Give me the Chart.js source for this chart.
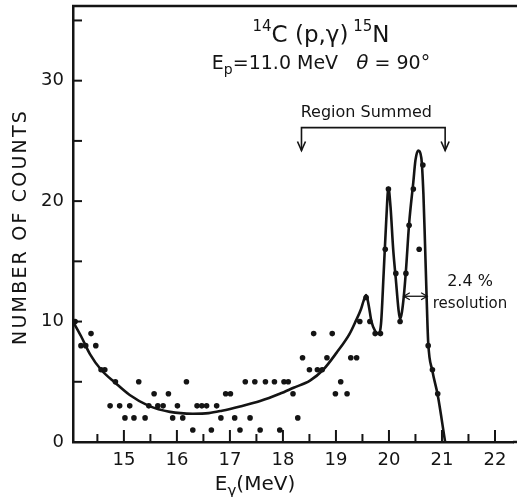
<!DOCTYPE html>
<html>
<head>
<meta charset="utf-8">
<script src="https://cdn.jsdelivr.net/npm/chart.js@4.4.1/dist/chart.umd.min.js"></script>
<style>
  body { margin: 0; background: #fff; }
  canvas { display: block; }
</style>
</head>
<body>
<canvas id="spectrum" width="517" height="497"></canvas>
<script>
// Measured counts per channel (gamma energy in MeV)
const channelEnergy = [
  14.08, 14.19, 14.28, 14.38, 14.47, 14.57, 14.64, 14.74, 14.84, 14.92,
  15.02, 15.11, 15.19, 15.28, 15.40, 15.47, 15.57, 15.64, 15.74, 15.84,
  15.92, 16.01, 16.11, 16.18, 16.30, 16.38, 16.47, 16.56, 16.65, 16.75,
  16.83, 16.92, 17.01, 17.09, 17.19, 17.29, 17.38, 17.47, 17.57, 17.67,
  17.84, 17.94, 18.02, 18.10, 18.19, 18.28, 18.37, 18.50, 18.58, 18.65,
  18.74, 18.83, 18.93, 18.99, 19.09, 19.21, 19.28, 19.39, 19.45, 19.57,
  19.64, 19.74, 19.84, 19.93, 19.99, 20.13, 20.21, 20.32, 20.38, 20.46,
  20.57, 20.64, 20.74, 20.82, 20.92
];
const channelCounts = [
  10, 8, 8, 9, 8, 6, 6, 3, 5, 3,
  2, 3, 2, 5, 2, 3, 4, 3, 3, 4,
  2, 3, 2, 5, 1, 3, 3, 3, 1, 3,
  2, 4, 4, 2, 1, 5, 2, 5, 1, 5,
  5, 1, 5, 5, 4, 2, 7, 6, 9, 6,
  6, 7, 9, 4, 5, 4, 7, 7, 10, 12,
  10, 9, 9, 16, 21, 14, 10, 14, 18, 21,
  16, 23, 8, 6, 4
];

// Hand-drawn fit through the spectrum
const fitEnergy = [
  14.04, 14.19, 14.36, 14.57, 14.84, 15.11, 15.47, 15.87, 16.30, 16.60,
  16.85, 17.19, 17.57, 17.94, 18.20, 18.51, 18.76, 19.01, 19.26, 19.38,
  19.47, 19.52, 19.57, 19.62, 19.67, 19.74, 19.80, 19.85, 19.90, 19.95,
  19.99, 20.03, 20.08, 20.13, 20.18, 20.21, 20.245, 20.28, 20.32,
  20.38, 20.46, 20.50, 20.55, 20.61, 20.65, 20.68, 20.71, 20.74,
  20.82, 20.92, 21.06
];
const fitCounts = [
  10, 8.8, 7.3, 6.0, 4.9, 3.9, 3.0, 2.5, 2.35, 2.4,
  2.6, 2.95, 3.4, 4.0, 4.5, 5.1, 6.0, 7.4, 9.0, 10.1,
  11.0, 11.7, 12.2, 11.3, 10.0, 9.2, 9.0, 9.8, 14.0, 18.5,
  21.1, 19.5, 16.0, 13.5, 11.0, 10.2, 10.8, 12.1, 14.2,
  18.1, 21.6, 23.4, 24.2, 23.6, 20.6, 16.5, 12.1, 8.3,
  5.9, 3.9, 0
];

// Axis ticks
const xTickValues = [14.5, 15, 15.5, 16, 16.5, 17, 17.5, 18, 18.5, 19, 19.5, 20, 20.5, 21, 21.5, 22];
const yTickValues = [0, 5, 10, 15, 20, 25, 30, 35];
const yTickLabels = ['0', '', '10', '', '20', '', '30', ''];

// Annotations (data units)
const regionSummed = [18.35, 21.06];
const resolutionSpan = [20.28, 20.72];
const halfMax = 12.1;

const INK = '#141414';
const FONT = '"DejaVu Sans", "Liberation Sans", sans-serif';

function line(ctx, x1, y1, x2, y2) {
  ctx.beginPath();
  ctx.moveTo(x1, y1);
  ctx.lineTo(x2, y2);
  ctx.stroke();
}

// draw a run of text pieces (size, vertical shift) centred on cx
function drawRun(ctx, parts, cx, baseline) {
  let total = 0;
  parts.forEach(p => {
    ctx.font = (p.style || '') + ' ' + p.size + 'px ' + FONT;
    p.w = ctx.measureText(p.t).width;
    total += p.w;
  });
  let x = cx - total / 2;
  ctx.textAlign = 'left';
  ctx.textBaseline = 'alphabetic';
  parts.forEach(p => {
    ctx.font = (p.style || '') + ' ' + p.size + 'px ' + FONT;
    ctx.fillText(p.t, x, baseline + (p.dy || 0));
    x += p.w;
  });
}

const inkPlugin = {
  id: 'ink',
  afterDraw(chart) {
    const { ctx, chartArea: a, scales: { x, y } } = chart;
    ctx.save();
    ctx.strokeStyle = INK;
    ctx.fillStyle = INK;
    ctx.lineCap = 'butt';

    // frame top
    ctx.lineWidth = 2.5;
    line(ctx, a.left - 1, a.top, chart.width, a.top);

    // inward tick marks
    ctx.lineWidth = 2;
    xTickValues.forEach(v => {
      const px = x.getPixelForValue(v);
      const len = Number.isInteger(v) ? 12 : 8;
      line(ctx, px, a.bottom, px, a.bottom - len);
    });
    yTickValues.forEach(v => {
      const py = y.getPixelForValue(v);
      line(ctx, a.left, py, a.left + 9, py);
    });

    // reaction title
    drawRun(ctx, [
      { t: '14', size: 15, dy: -11 },
      { t: 'C (p,\u03b3)', size: 23 },
      { t: ' 15', size: 15, dy: -11 },
      { t: 'N', size: 23 }
    ], 321, 42);
    drawRun(ctx, [
      { t: 'E', size: 19 },
      { t: 'p', size: 14, dy: 5 },
      { t: '=11.0 MeV', size: 19 },
      { t: '   ', size: 19 },
      { t: '\u03b8', size: 20, style: 'italic' },
      { t: ' = 90\u00b0', size: 19 }
    ], 321, 69);

    // region summed bracket
    ctx.lineWidth = 1.6;
    const rx1 = x.getPixelForValue(regionSummed[0]);
    const rx2 = x.getPixelForValue(regionSummed[1]);
    const ry = y.getPixelForValue(26.1);
    const tip = y.getPixelForValue(24.2);
    ctx.beginPath();
    ctx.moveTo(rx1, tip);
    ctx.lineTo(rx1, ry);
    ctx.lineTo(rx2, ry);
    ctx.lineTo(rx2, tip);
    ctx.stroke();
    [rx1, rx2].forEach(px => {
      ctx.beginPath();
      ctx.moveTo(px - 4, tip - 9);
      ctx.lineTo(px, tip);
      ctx.lineTo(px + 4, tip - 9);
      ctx.stroke();
    });
    ctx.font = '16px ' + FONT;
    ctx.textAlign = 'center';
    ctx.textBaseline = 'middle';
    ctx.fillText('Region Summed', (rx1 + rx2) / 2 - 7, ry - 15);

    // resolution arrow at half maximum
    ctx.lineWidth = 1.3;
    const ax1 = x.getPixelForValue(resolutionSpan[0]);
    const ax2 = x.getPixelForValue(resolutionSpan[1]);
    const ay = y.getPixelForValue(halfMax);
    line(ctx, ax1, ay, ax2, ay);
    ctx.beginPath();
    ctx.moveTo(ax1 + 6, ay - 3.5); ctx.lineTo(ax1, ay); ctx.lineTo(ax1 + 6, ay + 3.5);
    ctx.moveTo(ax2 - 6, ay - 3.5); ctx.lineTo(ax2, ay); ctx.lineTo(ax2 - 6, ay + 3.5);
    ctx.stroke();
    ctx.font = '16px ' + FONT;
    ctx.fillText('2.4 %', 470, ay - 14);
    ctx.font = '15px ' + FONT;
    ctx.fillText('resolution', 470, ay + 8);

    // axis titles
    drawRun(ctx, [
      { t: 'E', size: 20 },
      { t: '\u03b3', size: 15, dy: 6 },
      { t: '(MeV)', size: 20 }
    ], 255, 490);

    ctx.save();
    ctx.translate(26, 227);
    ctx.rotate(-Math.PI / 2);
    ctx.font = '19px ' + FONT;
    ctx.letterSpacing = '2.2px';
    ctx.textAlign = 'center';
    ctx.textBaseline = 'alphabetic';
    ctx.fillText('NUMBER OF COUNTS', 0, 0);
    ctx.restore();

    // bottom axis runs out to the edge
    ctx.lineWidth = 2.5;
    line(ctx, a.right, a.bottom, chart.width, a.bottom);

    ctx.restore();
  }
};

new Chart(document.getElementById('spectrum').getContext('2d'), {
  type: 'scatter',
  data: {
    datasets: [
      {
        label: 'Counts',
        data: channelEnergy.map((e, i) => ({ x: e, y: channelCounts[i] })),
        backgroundColor: INK,
        borderColor: INK,
        pointRadius: 2.8,
        pointBorderWidth: 0,
        showLine: false
      },
      {
        label: 'Fit',
        data: fitEnergy.map((e, i) => ({ x: e, y: fitCounts[i] })),
        showLine: true,
        borderColor: INK,
        borderWidth: 2.6,
        pointRadius: 0,
        cubicInterpolationMode: 'monotone',
        fill: false
      }
    ]
  },
  options: {
    responsive: false,
    animation: false,
    layout: { padding: { top: 6, right: 0, left: 0, bottom: 0 } },
    plugins: {
      legend: { display: false },
      tooltip: { enabled: false }
    },
    scales: {
      x: {
        type: 'linear',
        min: 14.04,
        max: 22.34,
        afterFit: s => { s.height = 55; s.paddingLeft = 0; s.paddingRight = 0; },
        afterBuildTicks: s => { s.ticks = xTickValues.map(v => ({ value: v })); },
        grid: { display: false, drawTicks: false },
        border: { display: true, color: INK, width: 2.5 },
        ticks: {
          padding: 8,
          color: INK,
          font: { family: FONT, size: 18 },
          maxRotation: 0,
          autoSkip: false,
          callback: v => (Number.isInteger(v) ? String(v) : '')
        }
      },
      y: {
        min: 0,
        max: 36.2,
        afterFit: s => { s.width = 73; s.paddingTop = 0; s.paddingBottom = 0; },
        afterBuildTicks: s => { s.ticks = yTickValues.map(v => ({ value: v })); },
        grid: { display: false, drawTicks: false },
        border: { display: true, color: INK, width: 2.5 },
        ticks: {
          padding: 9,
          color: INK,
          font: { family: FONT, size: 18 },
          autoSkip: false,
          callback: (v, i) => yTickLabels[i]
        }
      }
    }
  },
  plugins: [inkPlugin]
});
</script>
</body>
</html>
